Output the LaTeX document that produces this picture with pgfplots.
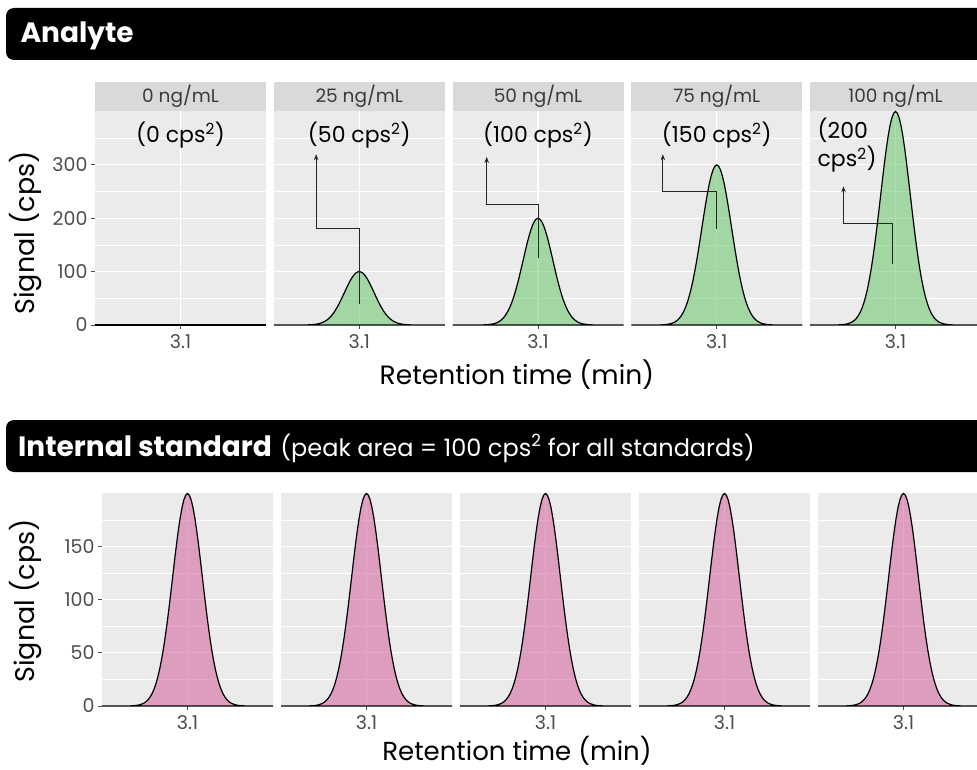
\documentclass[border=0pt]{standalone}
\usepackage{fontspec}
\setmainfont{Poppins}
\usepackage{pgfplots}
\usepackage{pgfplotstable}
\pgfplotsset{compat=1.18}
\usetikzlibrary{arrows.meta}

\definecolor{panelbg}{HTML}{EBEBEB}
\definecolor{stripbg}{HTML}{D9D9D9}
\definecolor{ticktext}{HTML}{4D4D4D}
\definecolor{striptext}{HTML}{3A3A3A}
\definecolor{analytefill}{HTML}{5BC35B}
\definecolor{istdfill}{HTML}{CF5193}

% Chromatogram traces (retention time in min, signal in cps)
\pgfplotstableread{
t     a25    a50    a75    a100   istd
1.950 0      0      0      0      0
2.300 0.03   0.07   0.10   0.13   0.07
2.350 0.09   0.18   0.27   0.35   0.18
2.400 0.22   0.44   0.66   0.88   0.44
2.450 0.51   1.02   1.53   2.04   1.02
2.500 1.11   2.22   3.33   4.44   2.22
2.525 1.60   3.21   4.81   6.42   3.21
2.550 2.28   4.56   6.84   9.12   4.56
2.575 3.19   6.38   9.57   12.76  6.38
2.600 4.39   8.79   13.18  17.58  8.79
2.625 5.96   11.92  17.88  23.84  11.92
2.650 7.96   15.91  23.87  31.82  15.91
2.675 10.46  20.92  31.37  41.83  20.92
2.700 13.53  27.07  40.60  54.14  27.07
2.725 17.24  34.48  51.73  68.97  34.48
2.750 21.63  43.25  64.88  86.51  43.25
2.775 26.71  53.41  80.12  106.82 53.41
2.800 32.47  64.93  97.40  129.86 64.93
2.825 38.86  77.71  116.57 155.42 77.71
2.850 45.78  91.57  137.35 183.13 91.57
2.875 53.11  106.22 159.33 212.44 106.22
2.900 60.65  121.31 181.96 242.61 121.31
2.925 68.19  136.39 204.58 272.78 136.39
2.950 75.48  150.97 226.45 301.94 150.97
2.975 82.26  164.52 246.77 329.03 164.52
3.000 88.25  176.50 264.75 353.00 176.50
3.025 93.21  186.42 279.63 372.84 186.42
3.050 96.92  193.85 290.77 387.69 193.85
3.075 99.22  198.44 297.67 396.89 198.44
3.100 100    200    300    400    200
3.125 99.22  198.44 297.67 396.89 198.44
3.150 96.92  193.85 290.77 387.69 193.85
3.175 93.21  186.42 279.63 372.84 186.42
3.200 88.25  176.50 264.75 353.00 176.50
3.225 82.26  164.52 246.77 329.03 164.52
3.250 75.48  150.97 226.45 301.94 150.97
3.275 68.19  136.39 204.58 272.78 136.39
3.300 60.65  121.31 181.96 242.61 121.31
3.325 53.11  106.22 159.33 212.44 106.22
3.350 45.78  91.57  137.35 183.13 91.57
3.375 38.86  77.71  116.57 155.42 77.71
3.400 32.47  64.93  97.40  129.86 64.93
3.425 26.71  53.41  80.12  106.82 53.41
3.450 21.63  43.25  64.88  86.51  43.25
3.475 17.24  34.48  51.73  68.97  34.48
3.500 13.53  27.07  40.60  54.14  27.07
3.525 10.46  20.92  31.37  41.83  20.92
3.550 7.96   15.91  23.87  31.82  15.91
3.575 5.96   11.92  17.88  23.84  11.92
3.600 4.39   8.79   13.18  17.58  8.79
3.625 3.19   6.38   9.57   12.76  6.38
3.650 2.28   4.56   6.84   9.12   4.56
3.675 1.60   3.21   4.81   6.42   3.21
3.700 1.11   2.22   3.33   4.44   2.22
3.750 0.51   1.02   1.53   2.04   1.02
3.800 0.22   0.44   0.66   0.88   0.44
3.850 0.09   0.18   0.27   0.35   0.18
3.900 0.03   0.07   0.10   0.13   0.07
4.250 0      0      0      0      0
}\peaks

\pgfplotsset{
  panel/.style={
    scale only axis, width=171pt,
    xmin=1.95, xmax=4.25, ymin=0,
    axis background/.style={fill=panelbg},
    axis line style={draw=none},
    grid=both,
    major grid style={white, line width=1.1pt},
    minor grid style={white, line width=0.55pt},
    xtick={3.1}, xticklabels={3.1},
    tick pos=left, tick align=outside,
    major tick length=4pt, minor tick length=0pt,
    tick style={ticktext, line width=0.8pt},
    tick label style={font=\fontsize{19}{19}\selectfont, text=ticktext},
    xticklabel style={anchor=center, yshift=-13pt},
    /pgf/number format/assume math mode=true,
    clip=false,
  },
  othercol/.style={yticklabels={}, ytick style={draw=none}},
  analyte/.style={panel, height=214pt, ymax=401,
    ytick={0,100,200,300}, minor ytick={50,150,250,350}},
  istd/.style={panel, height=213pt, ymax=200.5,
    ytick={0,50,100,150}, minor ytick={25,75,125,175}},
  trace/.style={draw=black, line width=1.2pt, fill opacity=0.5},
}
\tikzset{annot/.style={draw=black!85, line width=0.9pt, -{Stealth[length=6pt,width=4.5pt]}}}

\newcommand{\strip}[1]{%
  \fill[stripbg] (rel axis cs:0,1) rectangle ([yshift=29pt]rel axis cs:1,1);
  \node[font=\fontsize{18.5}{18.5}\selectfont, text=striptext]
    at ([yshift=14.5pt]rel axis cs:0.5,1) {#1};}
\newcommand{\areatext}{\fontsize{22}{28}\selectfont}

\begin{document}
\begin{tikzpicture}
\useasboundingbox (0,0) rectangle (977pt,-770pt);
\clip (0,0) rectangle (977pt,-770pt);

% ---- title bars ----
\fill[black, rounded corners=8pt] (6pt,-8pt) rectangle (1000pt,-60pt);
\node[anchor=west, text=white, font=\fontsize{28}{28}\selectfont\bfseries]
  at (17pt,-36pt) {Analyte};
\fill[black, rounded corners=8pt] (6pt,-420pt) rectangle (1000pt,-472pt);
\node[anchor=base west, text=white, inner sep=0pt]
  at (18pt,-456pt) {\fontsize{28}{28}\selectfont\bfseries Internal standard\hspace{0.3em}\fontsize{24}{24}\mdseries\selectfont(peak area = 100 cps\textsuperscript{2} for all standards)};

% ---- analyte row ----
\begin{axis}[analyte, at={(95pt,-111pt)}, anchor=north west]
  \strip{0 ng/mL}
  \addplot[draw=black, line width=1.2pt] coordinates {(1.95,0) (4.25,0)};
  \node[font=\areatext] at (axis cs:3.1,356) {(0 cps\textsuperscript{2})};
\end{axis}

\begin{axis}[analyte, othercol, at={(273.75pt,-111pt)}, anchor=north west]
  \strip{25 ng/mL}
  \addplot[trace, fill=analytefill] table[x=t, y=a25] {\peaks} \closedcycle;
  \draw[annot] (axis cs:3.1,40) -- (axis cs:3.1,180) -- (axis cs:2.52,180) -- (axis cs:2.52,320);
  \node[font=\areatext] at (axis cs:3.1,356) {(50 cps\textsuperscript{2})};
\end{axis}

\begin{axis}[analyte, othercol, at={(452.5pt,-111pt)}, anchor=north west]
  \strip{50 ng/mL}
  \addplot[trace, fill=analytefill] table[x=t, y=a50] {\peaks} \closedcycle;
  \draw[annot] (axis cs:3.1,125) -- (axis cs:3.1,225) -- (axis cs:2.41,225) -- (axis cs:2.41,315);
  \node[font=\areatext] at (axis cs:3.1,356) {(100 cps\textsuperscript{2})};
\end{axis}

\begin{axis}[analyte, othercol, at={(631.25pt,-111pt)}, anchor=north west]
  \strip{75 ng/mL}
  \addplot[trace, fill=analytefill] table[x=t, y=a75] {\peaks} \closedcycle;
  \draw[annot] (axis cs:3.1,180) -- (axis cs:3.1,250) -- (axis cs:2.375,250) -- (axis cs:2.375,320);
  \node[font=\areatext] at (axis cs:3.1,356) {(150 cps\textsuperscript{2})};
\end{axis}

\begin{axis}[analyte, othercol, at={(810pt,-111pt)}, anchor=north west]
  \strip{100 ng/mL}
  \addplot[trace, fill=analytefill] table[x=t, y=a100] {\peaks} \closedcycle;
  \draw[annot] (axis cs:3.06,115) -- (axis cs:3.06,190) -- (axis cs:2.40,190) -- (axis cs:2.40,260);
  \node[font=\areatext, anchor=north west, align=left, inner sep=0pt]
    at (axis cs:2.05,388) {(200\\cps\textsuperscript{2})};
\end{axis}

% ---- internal standard row ----
\begin{axis}[istd, at={(102pt,-493pt)}, anchor=north west]
  \addplot[trace, fill=istdfill] table[x=t, y=istd] {\peaks} \closedcycle;
\end{axis}
\begin{axis}[istd, othercol, at={(281pt,-493pt)}, anchor=north west]
  \addplot[trace, fill=istdfill] table[x=t, y=istd] {\peaks} \closedcycle;
\end{axis}
\begin{axis}[istd, othercol, at={(460pt,-493pt)}, anchor=north west]
  \addplot[trace, fill=istdfill] table[x=t, y=istd] {\peaks} \closedcycle;
\end{axis}
\begin{axis}[istd, othercol, at={(639pt,-493pt)}, anchor=north west]
  \addplot[trace, fill=istdfill] table[x=t, y=istd] {\peaks} \closedcycle;
\end{axis}
\begin{axis}[istd, othercol, at={(818pt,-493pt)}, anchor=north west]
  \addplot[trace, fill=istdfill] table[x=t, y=istd] {\peaks} \closedcycle;
\end{axis}

% ---- axis titles ----
\node[rotate=90, font=\fontsize{27}{27}\selectfont] at (26pt,-233pt) {Signal (cps)};
\node[rotate=90, font=\fontsize{27}{27}\selectfont] at (26pt,-601pt) {Signal (cps)};
\node[font=\fontsize{26.5}{26.5}\selectfont, inner sep=0pt] at (517pt,-375pt) {Retention time (min)};
\node[font=\fontsize{26}{26}\selectfont, inner sep=0pt] at (517pt,-751pt) {Retention time (min)};
\end{tikzpicture}
\end{document}
